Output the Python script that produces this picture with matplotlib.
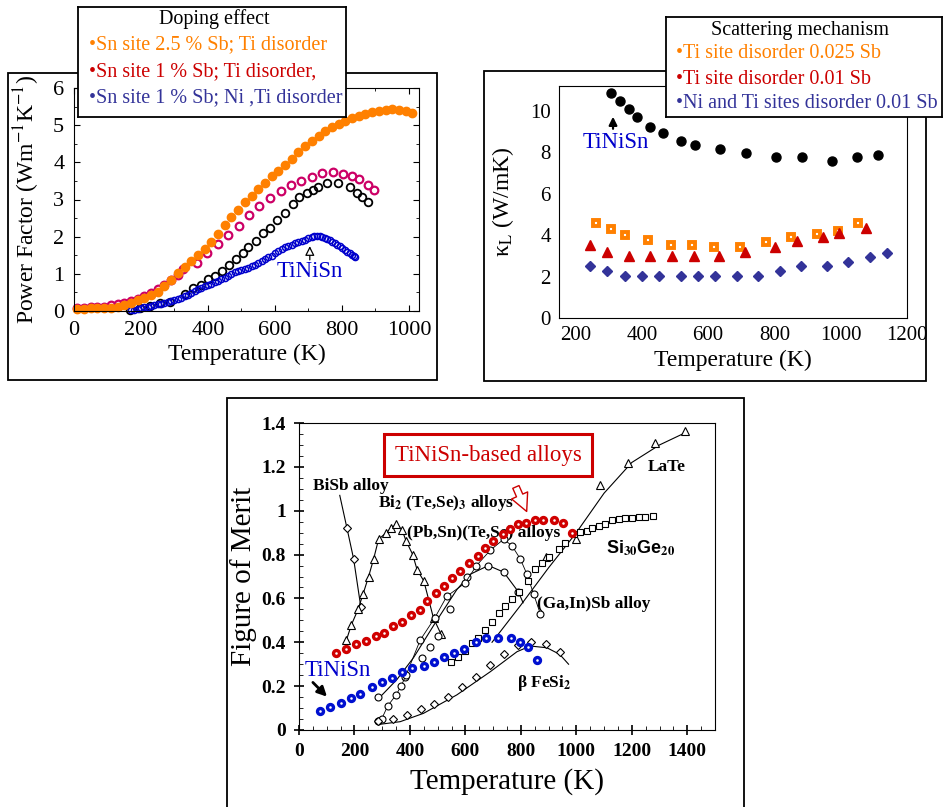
import matplotlib
matplotlib.use("Agg")
import matplotlib.pyplot as plt
from matplotlib.patches import Rectangle

plt.rcParams["font.family"] = ["Liberation Serif", "DejaVu Serif"]
plt.rcParams["mathtext.fontset"] = "stix"

W, H = 943, 807

# ---------------- panel 1: power factor ----------------
pf_org_T = [10, 30, 50, 70, 90, 110, 130, 150, 170, 190, 210, 230, 250, 270, 290, 310, 330, 350,
            370, 390, 410, 430, 450, 470, 490, 510, 530, 550, 570, 590, 610, 630, 650, 670, 690,
            710, 730, 750, 770, 790, 810, 830, 850, 870, 890, 910, 930, 950, 970, 990, 1010]
pf_org_v = [0.05, 0.06, 0.07, 0.07, 0.08, 0.09, 0.12, 0.16, 0.22, 0.29, 0.36, 0.43, 0.50, 0.66,
            0.84, 1.02, 1.18, 1.34, 1.50, 1.68, 1.86, 2.08, 2.31, 2.52, 2.72, 2.92, 3.10, 3.27,
            3.44, 3.62, 3.78, 3.94, 4.10, 4.28, 4.43, 4.58, 4.71, 4.84, 4.94, 5.04, 5.12, 5.20,
            5.26, 5.30, 5.35, 5.38, 5.42, 5.43, 5.42, 5.38, 5.34]
pf_mag_T = [10, 30, 50, 70, 90, 110, 130, 150, 170, 190, 210, 230, 250, 270, 290, 310, 325, 367,
            397, 430, 460, 493, 522, 552, 585, 618, 648, 678, 710, 740, 773, 803, 830, 851, 878, 896]
pf_mag_v = [0.08, 0.09, 0.10, 0.11, 0.12, 0.15, 0.18, 0.22, 0.27, 0.33, 0.40, 0.48, 0.58, 0.70,
            0.83, 0.97, 1.13, 1.29, 1.56, 1.80, 2.04, 2.28, 2.58, 2.82, 3.04, 3.23, 3.39, 3.49,
            3.60, 3.71, 3.74, 3.68, 3.63, 3.55, 3.39, 3.25]
pf_blk_T = [167, 197, 227, 257, 287, 331, 355, 379, 400, 421, 441, 463, 484, 504, 519, 543, 564,
            585, 606, 630, 654, 672, 696, 713, 728, 755, 788, 824, 845, 860, 878]
pf_blk_v = [0.02, 0.08, 0.13, 0.21, 0.24, 0.46, 0.62, 0.70, 0.86, 0.94, 1.08, 1.24, 1.40, 1.56,
            1.72, 1.88, 2.10, 2.23, 2.45, 2.63, 2.88, 3.06, 3.17, 3.25, 3.33, 3.44, 3.44, 3.33,
            3.17, 3.06, 2.93]
pf_blu_T = [170, 180, 190, 200, 210, 220, 230, 240, 250, 260, 270, 280, 290, 300, 310, 320, 330,
            340, 350, 360, 370, 380, 390, 400, 410, 420, 430, 440, 450, 460, 470, 480, 490, 500,
            510, 520, 530, 540, 550, 560, 570, 580, 590, 600, 610, 620, 630, 640, 650, 660, 670,
            680, 690, 700, 710, 718, 725, 733, 740, 748, 755, 763, 770, 778, 785, 793, 800, 808,
            815, 823, 830, 835, 840]
pf_blu_v = [0.02, 0.04, 0.06, 0.08, 0.10, 0.12, 0.14, 0.16, 0.18, 0.20, 0.22, 0.24, 0.27, 0.30,
            0.33, 0.36, 0.40, 0.44, 0.49, 0.54, 0.59, 0.63, 0.67, 0.70, 0.73, 0.77, 0.80, 0.85,
            0.90, 0.95, 1.00, 1.04, 1.07, 1.10, 1.13, 1.16, 1.20, 1.25, 1.30, 1.34, 1.39, 1.44,
            1.49, 1.55, 1.61, 1.66, 1.71, 1.75, 1.78, 1.82, 1.85, 1.89, 1.92, 1.96, 1.99, 2.01,
            2.02, 2.01, 1.98, 1.96, 1.93, 1.90, 1.86, 1.82, 1.78, 1.74, 1.70, 1.65, 1.59, 1.55,
            1.50, 1.47, 1.45]

# ---------------- panel 2: lattice thermal conductivity ----------------
k_blk_T = [307, 334, 361, 385, 425, 464, 518, 560, 636, 714, 805, 883, 974, 1049, 1113]
k_blk_v = [10.86, 10.5, 10.1, 9.7, 9.2, 8.95, 8.55, 8.35, 8.15, 7.95, 7.75, 7.75, 7.6, 7.75, 7.85]
k_org_T = [262, 307, 349, 419, 488, 551, 618, 696, 775, 850, 928, 992, 1052]
k_org_v = [4.57, 4.3, 4.0, 3.75, 3.5, 3.5, 3.45, 3.45, 3.65, 3.9, 4.05, 4.2, 4.6]
k_red_T = [244, 295, 361, 425, 491, 557, 633, 711, 802, 868, 947, 995, 1076]
k_red_v = [3.5, 3.2, 3.0, 3.0, 3.0, 3.0, 3.0, 3.2, 3.45, 3.7, 3.9, 4.1, 4.35]
k_blu_T = [244, 295, 349, 400, 452, 518, 569, 621, 687, 750, 817, 880, 959, 1022, 1088, 1140]
k_blu_v = [2.5, 2.25, 2.05, 2.05, 2.05, 2.05, 2.05, 2.05, 2.05, 2.05, 2.25, 2.5, 2.5, 2.7, 2.95, 3.15]

# ---------------- panel 3: figure of merit ----------------
zt_red_T = [133, 169, 205, 243, 279, 306, 339, 372, 405, 438, 462, 494, 522, 552, 582, 614, 644,
            671, 701, 734, 761, 790, 820, 850, 881, 919, 953, 983]
zt_red_v = [0.352, 0.369, 0.391, 0.407, 0.429, 0.444, 0.474, 0.494, 0.524, 0.547, 0.588, 0.626,
            0.658, 0.692, 0.727, 0.763, 0.793, 0.831, 0.863, 0.892, 0.915, 0.938, 0.942, 0.958,
            0.956, 0.956, 0.942, 0.900]
zt_blu_T = [75, 111, 150, 186, 221, 265, 299, 335, 371, 407, 449, 485, 522, 558, 594, 640, 674,
            718, 766, 796, 826, 859]
zt_blu_v = [0.087, 0.106, 0.125, 0.144, 0.164, 0.195, 0.220, 0.236, 0.263, 0.284, 0.292, 0.312,
            0.333, 0.353, 0.369, 0.403, 0.418, 0.418, 0.418, 0.403, 0.377, 0.319]
bisb_T = [147, 173, 197, 223]
bisb_v = [1.07, 0.92, 0.78, 0.56]
bite_T = [171, 189, 213, 231, 251, 269, 287, 315, 333, 351, 372, 387, 410, 426, 450, 485, 511]
bite_v = [0.41, 0.48, 0.55, 0.62, 0.70, 0.78, 0.87, 0.90, 0.92, 0.94, 0.91, 0.86, 0.80, 0.73,
          0.68, 0.51, 0.44]
pbsn_T = [286, 298, 320, 350, 368, 386, 437, 489, 533, 599, 640, 690, 738, 768, 798, 822, 846, 870]
pbsn_v = [0.04, 0.05, 0.11, 0.16, 0.20, 0.25, 0.41, 0.51, 0.61, 0.67, 0.75, 0.82, 0.87, 0.84,
          0.78, 0.71, 0.62, 0.53]
gain_pts_T = [286, 383, 443, 473, 503, 545, 605, 683, 738, 791]
gain_pts_v = [0.15, 0.24, 0.33, 0.38, 0.43, 0.55, 0.70, 0.75, 0.72, 0.63]
gain_fit_T = [292, 353, 413, 497, 569, 617, 683, 738, 791, 808]
gain_fit_v = [0.15, 0.23, 0.33, 0.50, 0.64, 0.71, 0.75, 0.72, 0.63, 0.58]
late_pts_T = [892, 997, 1087, 1187, 1285, 1391]
late_pts_v = [0.79, 0.87, 1.115, 1.216, 1.31, 1.363]
late_fit_T = [696, 800, 900, 1000, 1100, 1200, 1300, 1400]
late_fit_v = [0.40, 0.57, 0.74, 0.90, 1.08, 1.22, 1.30, 1.36]
sige_T = [549, 572, 597, 623, 647, 671, 696, 720, 744, 768, 792, 826, 850, 876, 900, 936, 960,
          990, 1014, 1039, 1057, 1081, 1105, 1129, 1153, 1177, 1201, 1225, 1249, 1277]
sige_v = [0.312, 0.334, 0.36, 0.395, 0.418, 0.456, 0.491, 0.532, 0.567, 0.597, 0.631, 0.679,
          0.734, 0.763, 0.79, 0.825, 0.851, 0.892, 0.904, 0.907, 0.920, 0.930, 0.938, 0.958,
          0.962, 0.965, 0.968, 0.970, 0.971, 0.976]
fesi_pts_T = [286, 338, 389, 439, 488, 537, 587, 638, 687, 738, 788, 838, 889, 940]
fesi_pts_v = [0.042, 0.049, 0.068, 0.094, 0.117, 0.152, 0.198, 0.243, 0.296, 0.347, 0.388,
              0.40, 0.391, 0.357]
fesi_fit_T = [298, 365, 449, 569, 690, 786, 834, 894, 940, 972]
fesi_fit_v = [0.027, 0.038, 0.076, 0.16, 0.266, 0.357, 0.383, 0.375, 0.345, 0.30]

ORANGE = "#FF8000"
RED = "#CC0000"
NAVY = "#333399"
BLUE = "#0000CC"


def box(l, t, r, b):
    # pixel box -> figure fraction
    return [l / W, 1 - b / H, (r - l) / W, (b - t) / H]


def frame(l, t, r, b):
    fig.add_artist(Rectangle((l / W, 1 - b / H), (r - l) / W, (b - t) / H,
                             transform=fig.transFigure, fill=False, ec="black", lw=1.3, zorder=0))


fig = plt.figure(figsize=(W / 100, H / 100), dpi=100)

frame(8, 73, 437, 380)
frame(484, 71, 926, 381)
frame(227, 398, 744, 815)

# ---- panel 1 ----
ax1 = fig.add_axes(box(74, 88, 419, 311))
ax1.plot(pf_mag_T, pf_mag_v, "o", ms=5.5, mfc="none", mec="#CC0066", mew=1.6, clip_on=False)
ax1.plot(pf_blk_T, pf_blk_v, "o", ms=5.5, mfc="none", mec="black", mew=1.3, clip_on=False)
ax1.plot(pf_blu_T, pf_blu_v, "o", ms=4.4, mfc="none", mec=BLUE, mew=1.1, clip_on=False)
ax1.plot(pf_org_T, pf_org_v, "o", ms=6, color=ORANGE, clip_on=False)
ax1.set_xlim(0, 1030)
ax1.set_ylim(0, 6)
ax1.set_xticks(range(0, 1001, 200))
ax1.set_xticks(range(100, 1001, 200), minor=True)
ax1.set_yticks(range(0, 7))
ax1.set_yticks([0.5, 1.5, 2.5, 3.5, 4.5, 5.5], minor=True)
ax1.tick_params(which="both", direction="in", top=True, right=True, labelsize=16, pad=7)
ax1.tick_params(which="major", length=4)
ax1.tick_params(which="minor", length=2.5)
ax1.set_xlabel("Temperature (K)", fontsize=17, labelpad=3)
ax1.set_ylabel("Power Factor (Wm$^{-1}$K$^{-1}$)", fontsize=17, labelpad=8)
ax1.text(704, 1.05, "TiNiSn", color=BLUE, fontsize=16.5, ha="center", va="center")
ax1.annotate("", xy=(704, 1.82), xytext=(704, 1.3),
             arrowprops=dict(arrowstyle="-|>", fc="white", ec="black", lw=0.9, mutation_scale=14))

leg1 = fig.add_axes(box(78, 7, 346, 117))
leg1.set_zorder(10)
leg1.set_xticks([])
leg1.set_yticks([])
for s in leg1.spines.values():
    s.set_linewidth(1.3)
leg1.text(0.507, 0.895, "Doping effect", ha="center", va="center", fontsize=14.5)
leg1.text(0.04, 0.655, "•Sn site 2.5 % Sb; Ti disorder", color=ORANGE, fontsize=14.5, va="center")
leg1.text(0.04, 0.41, "•Sn site 1 % Sb; Ti disorder,", color=RED, fontsize=14.5, va="center")
leg1.text(0.04, 0.175, "•Sn site 1 % Sb; Ni ,Ti disorder", color=NAVY, fontsize=14.5, va="center")

# ---- panel 2 ----
ax2 = fig.add_axes(box(559, 86, 907, 318))
ax2.plot(k_blk_T, k_blk_v, "o", ms=6.5, color="black")
ax2.plot(k_org_T, k_org_v, "s", ms=3.8, mfc="white", mec=ORANGE, mew=2.8)
ax2.plot(k_red_T, k_red_v, "^", ms=7, color=RED)
ax2.plot(k_blu_T, k_blu_v, "D", ms=4.8, color=NAVY)
ax2.set_xlim(150, 1200)
ax2.set_ylim(0, 11.2)
ax2.set_xticks(range(200, 1201, 200))
ax2.set_yticks(range(0, 11, 2))
ax2.tick_params(length=0, labelsize=15, pad=6)
ax2.set_xlabel("Temperature (K)", fontsize=17, labelpad=3)
ax2.set_ylabel(r"κ$_\mathrm{L}$ (W/mK)", fontsize=17, labelpad=10)
ax2.text(322, 8.45, "TiNiSn", color=BLUE, fontsize=16.5, ha="center", va="center")
ax2.annotate("", xy=(313, 9.85), xytext=(313, 9.0),
             arrowprops=dict(arrowstyle="-|>", color="black", lw=1.6, mutation_scale=12))

leg2 = fig.add_axes(box(666, 17, 942, 117))
leg2.set_zorder(10)
leg2.set_xticks([])
leg2.set_yticks([])
for s in leg2.spines.values():
    s.set_linewidth(1.3)
leg2.text(0.487, 0.86, "Scattering mechanism", ha="center", va="center", fontsize=14.5)
leg2.text(0.035, 0.635, "•Ti site disorder 0.025 Sb", color=ORANGE, fontsize=14.5, va="center")
leg2.text(0.035, 0.38, "•Ti site disorder 0.01 Sb", color=RED, fontsize=14.5, va="center")
leg2.text(0.035, 0.13, "•Ni and Ti sites disorder 0.01 Sb", color=NAVY, fontsize=14.5, va="center")

# ---- panel 3 ----
ax3 = fig.add_axes(box(299, 423, 715, 730))
lw = 0.8
ax3.plot(bisb_T, bisb_v, "-", color="black", lw=lw)
ax3.plot(bisb_T[1:], bisb_v[1:], "D", ms=4, mfc="white", mec="black", mew=0.8)
ax3.plot(bite_T, bite_v, "-^", color="black", lw=lw, ms=5.5, mfc="white", mew=0.8)
ax3.plot(gain_fit_T, gain_fit_v, "-", color="black", lw=lw)
ax3.plot(gain_pts_T, gain_pts_v, "o", ms=5, mfc="white", mec="black", mew=0.8)
ax3.plot(pbsn_T, pbsn_v, "-o", color="black", lw=0.6, ms=5, mfc="white", mew=0.8)
ax3.plot(late_fit_T, late_fit_v, "-", color="black", lw=lw)
ax3.plot(late_pts_T, late_pts_v, "^", ms=5.5, mfc="white", mec="black", mew=0.8)
ax3.plot(sige_T, sige_v, "s", ms=5, mfc="white", mec="black", mew=0.8)
ax3.plot(fesi_fit_T, fesi_fit_v, "-", color="black", lw=lw)
ax3.plot(fesi_pts_T, fesi_pts_v, "D", ms=4, mfc="white", mec="black", mew=0.8)
ax3.plot(zt_red_T, zt_red_v, "o", ms=4.3, mfc="white", mec="#D00000", mew=2.4, zorder=5)
ax3.plot(zt_blu_T, zt_blu_v, "o", ms=4.3, mfc="white", mec="#0010D0", mew=2.4, zorder=5)

ax3.set_xlim(0, 1500)
ax3.set_ylim(0, 1.4)
xt = list(range(0, 1401, 200))
yt = [0, 0.2, 0.4, 0.6, 0.8, 1.0, 1.2, 1.4]
ax3.set_xticks(xt)
ax3.set_xticklabels([str(t) for t in xt], fontweight="bold")
ax3.set_yticks(yt)
ax3.set_yticklabels([f"{t:g}" for t in yt], fontweight="bold")
ax3.set_xticks(range(50, 1500, 50), minor=True)
ax3.set_yticks([i * 0.05 for i in range(29)], minor=True)
ax3.tick_params(which="major", direction="inout", length=7, width=1.2, labelsize=14, pad=6)
ax3.tick_params(which="minor", direction="in", length=3)
ax3.set_xlabel("Temperature (K)", fontsize=21, labelpad=6)
ax3.set_ylabel("Figure of Merit", fontsize=21, labelpad=3)

tb = dict(fontsize=12.5, fontweight="bold", va="center", ha="left", zorder=3)
ax3.text(51, 1.113, "BiSb alloy", **tb)
ax3.text(285, 1.035, r"Bi$_\mathbf{2}$ (Te,Se)$_\mathbf{3}$ alloys", **tb)
ax3.text(390, 0.898, "(Pb,Sn)(Te,Se) alloys", **tb)
ax3.text(1256, 1.20, "LaTe", **tb)
ax3.text(1108, 0.83, r"Si$_{\mathbf{30}}$Ge$_{\mathbf{20}}$", family="Liberation Sans",
         fontsize=13, fontweight="bold", va="center", ha="left")
ax3.text(859, 0.575, "(Ga,In)Sb alloy", **tb)
ax3.text(787, 0.214, r"β FeSi$_\mathbf{2}$", **tb)
ax3.text(22, 0.27, "TiNiSn", color=BLUE, fontsize=16.5, va="center", ha="left")
ax3.annotate("", xy=(108, 0.143), xytext=(43, 0.226),
             arrowprops=dict(arrowstyle="-|>", color="black", lw=2, mutation_scale=14))
ax3.text(682, 1.254, "TiNiSn-based alloys", color=RED, fontsize=16.5, ha="center", va="center",
         bbox=dict(boxstyle="square,pad=0.45", fc="white", ec=RED, lw=2.2))
ax3.annotate("", xy=(825, 0.985), xytext=(778, 1.12),
             arrowprops=dict(arrowstyle="simple,head_width=0.9,head_length=0.9,tail_width=0.35",
                             fc="white", ec=RED, lw=1, mutation_scale=14))

fig.savefig("out.png", dpi=100)
